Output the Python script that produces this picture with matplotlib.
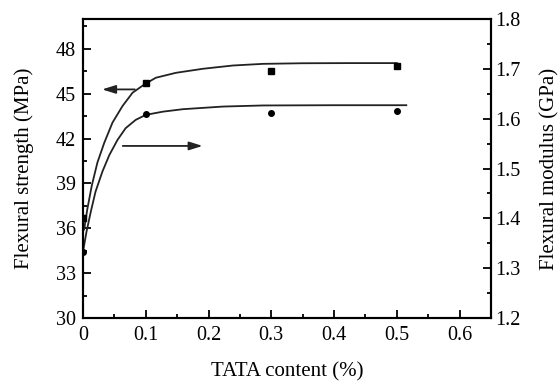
import matplotlib
matplotlib.use("Agg")
import matplotlib.pyplot as plt
from matplotlib.ticker import MultipleLocator

plt.rcParams["font.family"] = ["Liberation Serif", "DejaVu Serif"]

# measured points
tata = [0.0, 0.1, 0.3, 0.5]
strength = [36.7, 45.7, 46.5, 46.85]        # MPa, squares
modulus = [1.333, 1.609, 1.611, 1.615]      # GPa, circles

# fitted curves
fit_s_x = [0.0, 0.002, 0.007, 0.014, 0.023, 0.034, 0.047, 0.063, 0.079, 0.098,
           0.116, 0.148, 0.191, 0.239, 0.287, 0.35, 0.42, 0.5]
fit_s_y = [35.8, 35.96, 37.3, 38.85, 40.4, 41.73, 43.07, 44.18, 45.07, 45.63,
           46.07, 46.4, 46.67, 46.89, 47.0, 47.04, 47.05, 47.05]
fit_m_x = [0.0, 0.001, 0.0056, 0.0125, 0.02, 0.031, 0.042, 0.055, 0.068, 0.084,
           0.1, 0.127, 0.159, 0.223, 0.287, 0.4, 0.515]
fit_m_y = [1.333, 1.34, 1.373, 1.4135, 1.4536, 1.494, 1.527, 1.5574, 1.581, 1.5976,
           1.6076, 1.614, 1.619, 1.6243, 1.6265, 1.627, 1.627]

fig = plt.figure(figsize=(5.58, 3.83), dpi=100)
ax = fig.add_axes([0.1487, 0.1697, 0.7313, 0.7807])
ax2 = ax.twinx()

ax.plot(fit_s_x, fit_s_y, color="#222222", lw=1.3)
ax.plot(tata, strength, "s", color="black", ms=4, ls="none")
ax2.plot(fit_m_x, fit_m_y, color="#222222", lw=1.3)
ax2.plot(tata, modulus, "o", color="black", ms=4, ls="none")

ax.set_xlim(0, 0.65)
ax.set_ylim(30, 50)
ax2.set_ylim(1.2, 1.8)

ax.xaxis.set_minor_locator(MultipleLocator(0.05))
ax.yaxis.set_minor_locator(MultipleLocator(1.5))
ax2.yaxis.set_minor_locator(MultipleLocator(0.05))

ax.set_xticks([0, 0.1, 0.2, 0.3, 0.4, 0.5, 0.6])
ax.set_xticklabels(["0", "0.1", "0.2", "0.3", "0.4", "0.5", "0.6"])
ax.set_yticks([30, 33, 36, 39, 42, 45, 48])
ax2.set_yticks([1.2, 1.3, 1.4, 1.5, 1.6, 1.7, 1.8])

for a in (ax, ax2):
    a.tick_params(which="both", direction="in", labelsize=14.5, width=1.3, pad=3)
    a.tick_params(which="major", length=6)
    a.tick_params(which="minor", length=3)
    for sp in a.spines.values():
        sp.set_linewidth(1.5)
ax.tick_params(axis="both", which="both", top=False, right=False)
ax.tick_params(axis="x", pad=6)
ax.tick_params(axis="y", pad=5)
ax2.tick_params(axis="x", which="both", top=False, bottom=False)

ax.set_xlabel("TATA content (%)", fontsize=15, labelpad=12)
ax.set_ylabel("Flexural strength (MPa)", fontsize=15, labelpad=16)
ax2.set_ylabel("Flexural modulus (GPa)", fontsize=15, labelpad=14)

arrow_kw = dict(arrowstyle="-|>,head_length=0.8,head_width=0.25", color="#222222", lw=1.3)
ax.annotate("", xy=(0.026, 45.29), xytext=(0.087, 45.29), arrowprops=arrow_kw)
ax.annotate("", xy=(0.195, 41.51), xytext=(0.059, 41.51), arrowprops=arrow_kw)

fig.savefig("out.png", dpi=100)
